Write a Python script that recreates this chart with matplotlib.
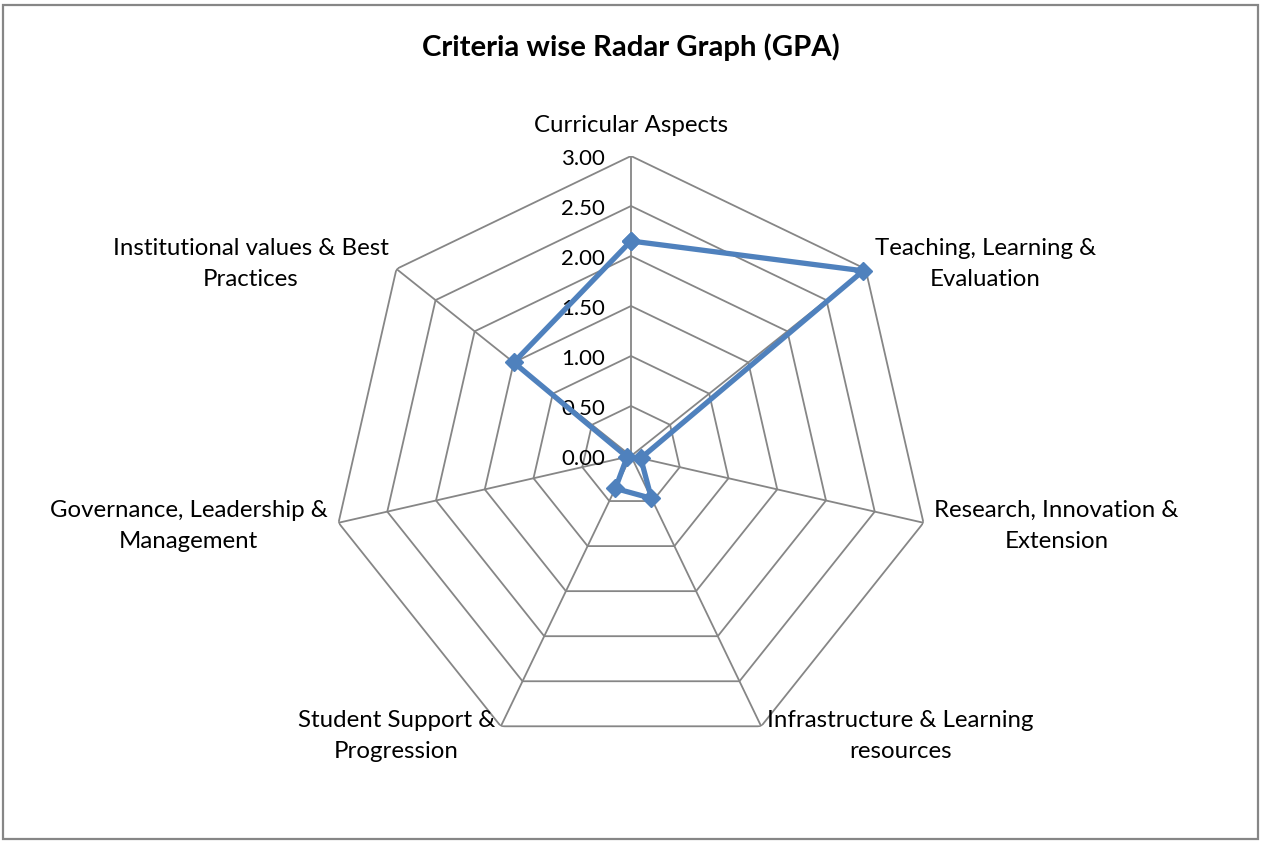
import numpy as np
import matplotlib
matplotlib.use("Agg")
import matplotlib.pyplot as plt
from matplotlib.patches import Rectangle

plt.rcParams["font.family"] = ["Lato", "DejaVu Sans"]

# ── Data ─────────────────────────────────────────────────────────────────────
CRITERIA = [
    "Curricular Aspects",
    "Teaching, Learning &\nEvaluation",
    "Research, Innovation &\nExtension",
    "Infrastructure & Learning\nresources",
    "Student Support &\nProgression",
    "Governance, Leadership &\nManagement",
    "Institutional values & Best\nPractices",
]
GPA = [2.15, 2.97, 0.10, 0.47, 0.36, 0.04, 1.50]
RINGS = [0.0, 0.5, 1.0, 1.5, 2.0, 2.5, 3.0]

LINE_COLOR = "#4F81BD"
GRID_COLOR = "#868686"

# label placement: (x offset px, y offset px, ha)
LABEL_POS = [
    (0, 31, "center"),
    (9, 5, "left"),
    (11, -3, "left"),
    (6, -10, "left"),
    (-6, -10, "right"),
    (-11, -3, "right"),
    (-8, 5, "right"),
]

n = len(CRITERIA)
angles = np.arange(n) * 2 * np.pi / n

fig = plt.figure(figsize=(12.61, 8.42), dpi=100)
fig.patches.append(Rectangle((0.0025, 0.003), 0.995, 0.9915, transform=fig.transFigure,
                             fill=False, edgecolor=GRID_COLOR, linewidth=1.6))

cx, cy, R = 631 / 1261, (842 - 456) / 842, 300
ax = fig.add_axes([cx - R / 1261, cy - R / 842, 2 * R / 1261, 2 * R / 842], polar=True)
ax.set_theta_offset(np.pi / 2)
ax.set_theta_direction(-1)
ax.set_ylim(0, 3)
ax.grid(False)
ax.spines["polar"].set_visible(False)
ax.set_xticks([])
ax.set_yticks([])
ax.patch.set_alpha(0)

closed = np.append(angles, angles[0])
for r in RINGS[1:]:
    ax.plot(closed, [r] * (n + 1), color=GRID_COLOR, linewidth=1.3, zorder=1)
for a in angles:
    ax.plot([a, a], [0, 3], color=GRID_COLOR, linewidth=1.3, zorder=1)

for r in RINGS:
    ax.annotate(f"{r:.2f}", xy=(0, r), xytext=(-26, -3), textcoords="offset pixels",
                ha="right", va="center", fontsize=16, color="black")

vals = np.append(GPA, GPA[0])
ax.plot(closed, vals, color=LINE_COLOR, linewidth=3.8, marker="D", markersize=9.5,
        markerfacecolor=LINE_COLOR, markeredgecolor=LINE_COLOR, zorder=3, clip_on=False)

for a, label, (dx, dy, ha) in zip(angles, CRITERIA, LABEL_POS):
    ax.annotate(label, xy=(a, 3), xytext=(dx, dy), textcoords="offset pixels",
                ha=ha, va="center", multialignment="center", fontsize=17.3,
                linespacing=1.6, annotation_clip=False)

fig.text(0.5, 1 - 47 / 842, "Criteria wise Radar Graph (GPA)", ha="center", va="center",
         fontsize=21.2, fontweight="bold")

fig.savefig("out.png", dpi=100)
